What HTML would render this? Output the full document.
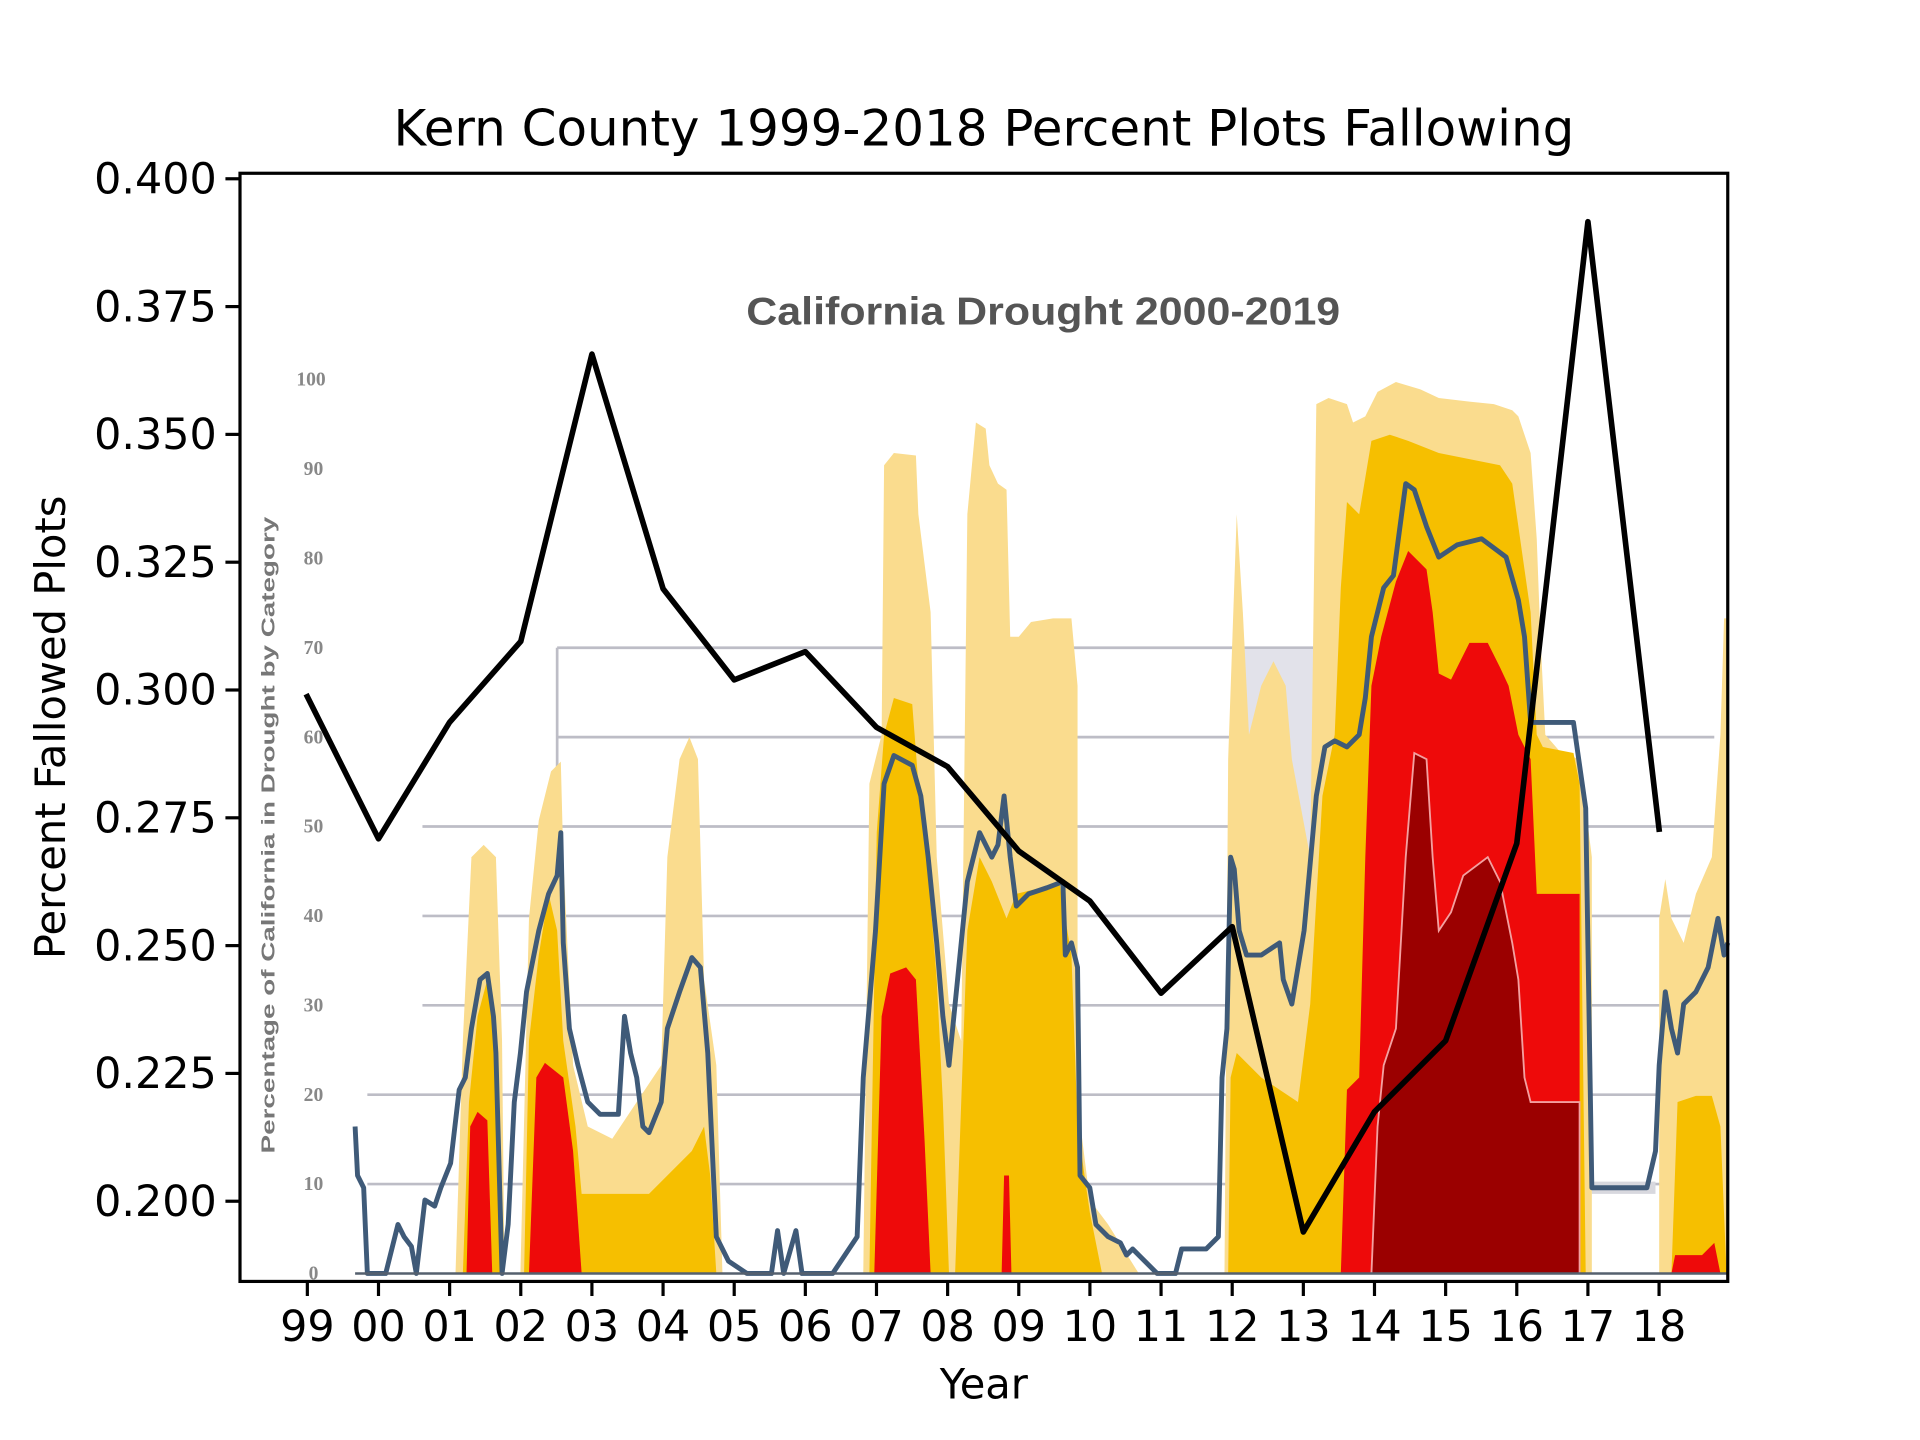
<!DOCTYPE html>
<html><head><meta charset="utf-8"><style>
html,body{margin:0;padding:0;background:#fff;}
svg{display:block;}
</style></head><body>
<svg id="chart" width="1920" height="1440" viewBox="0 0 1568 1176" xmlns="http://www.w3.org/2000/svg" font-family="'DejaVu Sans','Liberation Sans',sans-serif">
<rect width="1568" height="1176" fill="#fff"/>
<g id="bg">
  <g stroke="#bdbdc6" stroke-width="2.2">
    <line x1="300" y1="967" x2="1400" y2="967"/>
    <line x1="300" y1="894" x2="1400" y2="894"/>
    <line x1="345" y1="821" x2="1400" y2="821"/>
    <line x1="345" y1="748" x2="1400" y2="748"/>
    <line x1="345" y1="675" x2="1400" y2="675"/>
    <line x1="455" y1="602" x2="1400" y2="602"/>
    <line x1="455" y1="529" x2="1075" y2="529"/>
    <line x1="455" y1="529" x2="455" y2="640"/>
  </g>
  <rect x="1012" y="530" width="62" height="170" fill="#e2e2ea"/>
  <rect x="1300" y="965" width="52" height="10" fill="#d8d8de"/>
  <g fill="#fadc8e">
    <polygon points="372,1040 378,850 385,700 395,690 405,700 410,850 412,1040"/>
    <polygon points="425,1040 432,750 440,670 450,630 458,622 460,700 468,870 480,920 500,930 520,900 540,870 545,700 555,620 563,602 570,620 575,800 585,870 590,1040"/>
    <polygon points="705,1040 710,640 720,600 722,380 730,370 748,372 750,420 760,500 765,700 775,820 785,850 790,420 797,345 805,350 808,380 815,395 822,400 825,520 832,520 842,508 860,505 875,505 880,560 880,900 890,980 905,1000 930,1040"/>
    <polygon points="1000,1040 1003,620 1010,420 1015,500 1020,600 1030,560 1040,540 1050,560 1055,620 1070,700 1075,330 1085,325 1100,330 1105,345 1115,340 1125,320 1140,312 1160,318 1175,325 1200,328 1220,330 1235,335 1240,340 1250,370 1255,440 1258,520 1262,600 1275,615 1290,620 1300,700 1300,1040"/>
    <polygon points="1355,1040 1355,750 1360,718 1365,750 1375,770 1385,730 1398,700 1405,600 1408,505 1411,505 1411,1040"/>
  </g>
  <g fill="#f6bf00">
    <polygon points="378,1040 383,900 390,830 398,800 403,830 407,900 410,1040"/>
    <polygon points="428,1040 432,850 440,780 448,730 455,760 460,850 470,920 475,975 500,975 530,975 545,960 565,940 575,920 580,960 585,1040"/>
    <polygon points="710,1040 716,680 722,600 730,570 745,575 750,640 757,700 765,800 770,900 775,1040"/>
    <polygon points="780,1040 785,900 790,760 800,700 810,720 822,750 830,730 850,725 865,720 875,780 880,920 890,990 900,1040"/>
    <polygon points="1003,1040 1005,880 1010,860 1030,880 1060,900 1070,820 1080,650 1090,600 1095,480 1100,410 1110,420 1120,360 1135,355 1150,360 1175,370 1200,375 1225,380 1235,395 1240,430 1250,500 1255,600 1260,610 1285,615 1290,640 1295,1040"/>
    <polygon points="1365,1040 1370,900 1385,895 1398,895 1405,920 1410,1040"/>
  </g>
  <g fill="#ee0a0a">
    <polygon points="381,1040 384,920 390,908 398,915 402,1040"/>
    <polygon points="432,1040 438,880 445,868 460,880 468,940 475,1040"/>
    <polygon points="714,1040 720,830 727,795 740,790 748,800 755,930 760,1040"/>
    <polygon points="818,1040 820,960 824,960 826,1040"/>
    <polygon points="1095,1040 1100,890 1110,880 1115,700 1120,560 1128,520 1140,475 1150,450 1165,465 1170,500 1175,550 1185,555 1200,525 1215,525 1225,545 1232,560 1240,600 1250,620 1255,730 1290,730 1290,1040"/>
    <polygon points="1365,1040 1368,1025 1390,1025 1400,1015 1405,1040"/>
  </g>
  <g fill="#9b0000" stroke="#f3a0a0" stroke-width="1.5">
    <polygon points="1120,1040 1125,920 1130,870 1140,840 1148,700 1155,615 1165,620 1170,700 1175,760 1185,745 1195,715 1215,700 1225,720 1235,770 1240,800 1245,880 1250,900 1290,900 1290,1040"/>
  </g>
  <polyline fill="none" stroke="#3f5a78" stroke-width="4" stroke-linejoin="round" points="290,920 292,960 297,970 300,1040 315,1040 325,1000 330,1010 336,1018 340,1040 347,980 355,985 360,970 368,950 375,890 380,880 385,840 392,800 398,795 403,830 405,860 410,1040 415,1000 420,900 425,860 430,810 440,760 448,730 455,715 458,680 460,770 465,840 472,870 480,900 490,910 505,910 510,830 515,860 520,880 525,920 530,925 540,900 545,840 555,810 565,782 572,790 578,860 585,1010 595,1030 610,1040 630,1040 635,1005 640,1040 650,1005 655,1040 680,1040 700,1010 705,880 710,820 715,760 722,640 730,617 745,625 752,650 758,700 765,770 770,830 775,870 782,800 790,720 800,680 810,700 815,690 820,650 825,700 830,740 840,730 855,725 868,720 870,780 875,770 880,790 882,960 890,970 895,1000 905,1010 915,1015 920,1025 925,1020 935,1030 945,1040 960,1040 965,1020 975,1020 985,1020 995,1010 998,880 1002,840 1005,700 1008,710 1012,760 1018,780 1030,780 1045,770 1048,800 1055,820 1065,760 1075,650 1082,610 1090,605 1100,610 1110,600 1115,570 1120,520 1130,480 1138,470 1148,395 1155,400 1165,430 1175,455 1190,445 1210,440 1230,455 1240,490 1245,520 1250,590 1265,590 1285,590 1295,660 1300,970 1315,970 1345,970 1352,940 1355,870 1360,810 1365,840 1370,860 1375,820 1385,810 1395,790 1403,750 1408,780 1411,770"/>
  <polyline fill="none" stroke="#55606e" stroke-width="2" points="290,1040 1411,1040"/>
  <g fill="#888" font-family="'Liberation Serif',serif" font-weight="bold" font-size="16" text-anchor="middle">
    <text x="256" y="1045">0</text><text x="256" y="972">10</text><text x="256" y="899">20</text><text x="256" y="826">30</text><text x="256" y="753">40</text><text x="256" y="680">50</text><text x="256" y="607">60</text><text x="256" y="534">70</text><text x="256" y="461">80</text><text x="256" y="388">90</text><text x="254" y="315">100</text>
  </g>
  <text transform="translate(224,682) rotate(-90)" fill="#777" font-family="'Liberation Sans',sans-serif" font-weight="bold" font-size="15" text-anchor="middle" textLength="520" lengthAdjust="spacingAndGlyphs">Percentage of California in Drought by Category</text>
  <text x="852" y="265" fill="#555" font-family="'Liberation Sans',sans-serif" font-weight="bold" font-size="32" text-anchor="middle" textLength="485" lengthAdjust="spacingAndGlyphs">California Drought 2000-2019</text>
</g>
<g id="axes"></g>
</svg>
<script>
const years = ['99','00','01','02','03','04','05','06','07','08','09','10','11','12','13','14','15','16','17','18'];
const fallowed = [0.2987,0.2709,0.2937,0.3095,0.3657,0.3198,0.302,0.3075,0.2927,0.285,0.2685,0.2587,0.2407,0.2537,0.194,0.2175,0.2314,0.270,0.3916,0.2728];
const yTicks = [0.200,0.225,0.250,0.275,0.300,0.325,0.350,0.375,0.400];
const yTickLabels = ['0.200','0.225','0.250','0.275','0.300','0.325','0.350','0.375','0.400'];

const NS='http://www.w3.org/2000/svg';
const L=196,R=1411,T=141.5,B=1046.5;
function xScale(i){return 251+i*58.1;}
function yScale(v){return 146+(0.4-v)*4175;}
const g=document.getElementById('axes');
function mk(tag,attrs){const e=document.createElementNS(NS,tag);for(const k in attrs)e.setAttribute(k,attrs[k]);g.appendChild(e);return e;}

const pts=fallowed.map((v,i)=>xScale(i).toFixed(1)+','+yScale(v).toFixed(1)).join(' ');
const line=mk('polyline',{points:pts,fill:'none',stroke:'#000','stroke-width':4.6,'stroke-linejoin':'round','stroke-linecap':'square'});



const frame=mk('rect',{x:L,y:T,width:R-L,height:B-T,fill:'none',stroke:'#000','stroke-width':2.6});



yTicks.forEach((v,i)=>{
  const y=yScale(v);
  const t=mk('line',{x1:L-11.9,x2:L,y1:y,y2:y,stroke:'#000','stroke-width':2.6});
  
  
  const lb=mk('text',{x:L-19,y:y+12,'font-size':35,'text-anchor':'end',fill:'#000'});
  lb.textContent=yTickLabels[i];
  
  
});
years.forEach((yr,i)=>{
  const x=xScale(i);
  const t=mk('line',{x1:x,x2:x,y1:B,y2:B+11.9,stroke:'#000','stroke-width':2.6});
  
  
  const lb=mk('text',{x:x,y:1095,'font-size':35,'text-anchor':'middle',fill:'#000'});
  lb.textContent=yr;
  
  
});
const title=mk('text',{x:803.5,y:119,'font-size':40.8,'text-anchor':'middle',fill:'#000'});
title.textContent='Kern County 1999-2018 Percent Plots Fallowing';


const xl=mk('text',{x:803.5,y:1142,'font-size':34,'text-anchor':'middle',fill:'#000'});
xl.textContent='Year';


const yl=mk('text',{transform:'translate(53,594) rotate(-90)','font-size':34,'text-anchor':'middle',fill:'#000'});
yl.textContent='Percent Fallowed Plots';


</script>
</body></html>
